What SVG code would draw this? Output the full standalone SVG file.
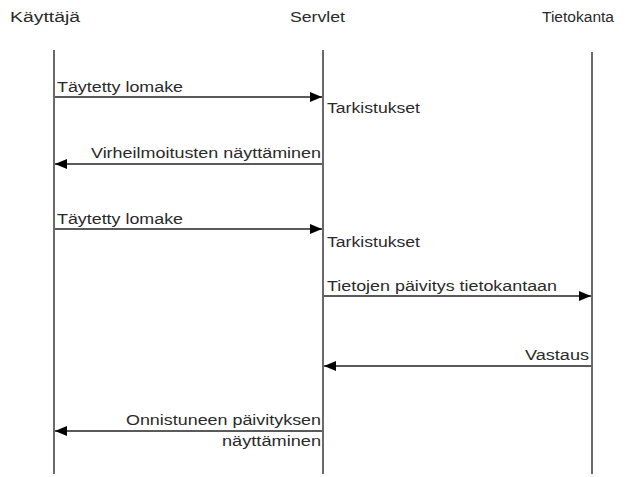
<svg xmlns="http://www.w3.org/2000/svg" width="628" height="477" viewBox="0 0 628 477">
<style>
text{font-family:"Liberation Sans",Arial,sans-serif;font-size:14px;fill:#2a2a2a}
.life{stroke:#6a6a6a;stroke-width:2;fill:none}
.msg{stroke:#5a5a5a;stroke-width:2;fill:none}
.end{text-anchor:end}
</style>
<defs>
<marker id="ah" viewBox="0 0 12 10" refX="12" refY="5" markerWidth="12" markerHeight="10" markerUnits="userSpaceOnUse" orient="auto">
<path d="M0,0 L12,5 L0,10 Z" fill="#000"/>
</marker>
</defs>
<rect width="628" height="477" fill="#fff"/>
<g id="kayttaja">
<text x="10" y="22" textLength="70" lengthAdjust="spacingAndGlyphs">Käyttäjä</text>
<line class="life" x1="54" y1="50" x2="54" y2="474"/>
</g>
<g id="servlet">
<text x="290" y="22" textLength="55" lengthAdjust="spacingAndGlyphs">Servlet</text>
<line class="life" x1="323" y1="50" x2="323" y2="474"/>
<text x="327" y="113" textLength="93" lengthAdjust="spacingAndGlyphs">Tarkistukset</text>
<text x="327" y="247" textLength="93" lengthAdjust="spacingAndGlyphs">Tarkistukset</text>
</g>
<g id="tietokanta">
<text x="542" y="22" textLength="72" lengthAdjust="spacingAndGlyphs">Tietokanta</text>
<line class="life" x1="592" y1="52" x2="592" y2="474"/>
</g>
<g id="connectors">
<line class="msg" x1="55" y1="97" x2="322" y2="97" marker-end="url(#ah)"/>
<text x="57" y="92" textLength="126" lengthAdjust="spacingAndGlyphs">Täytetty lomake</text>
<line class="msg" x1="322" y1="164" x2="55" y2="164" marker-end="url(#ah)"/>
<text class="end" x="321" y="158" textLength="230" lengthAdjust="spacingAndGlyphs">Virheilmoitusten näyttäminen</text>
<line class="msg" x1="55" y1="229" x2="322" y2="229" marker-end="url(#ah)"/>
<text x="57" y="224" textLength="126" lengthAdjust="spacingAndGlyphs">Täytetty lomake</text>
<line class="msg" x1="324" y1="296" x2="591" y2="296" marker-end="url(#ah)"/>
<text x="327" y="291" textLength="230" lengthAdjust="spacingAndGlyphs">Tietojen päivitys tietokantaan</text>
<line class="msg" x1="591" y1="366" x2="324" y2="366" marker-end="url(#ah)"/>
<text class="end" x="589" y="360" textLength="64" lengthAdjust="spacingAndGlyphs">Vastaus</text>
<line class="msg" x1="322" y1="431" x2="55" y2="431" marker-end="url(#ah)"/>
<text class="end" x="321" y="425" textLength="195" lengthAdjust="spacingAndGlyphs">Onnistuneen päivityksen</text>
<text class="end" x="321" y="446" textLength="99" lengthAdjust="spacingAndGlyphs">näyttäminen</text>
</g>
</svg>
